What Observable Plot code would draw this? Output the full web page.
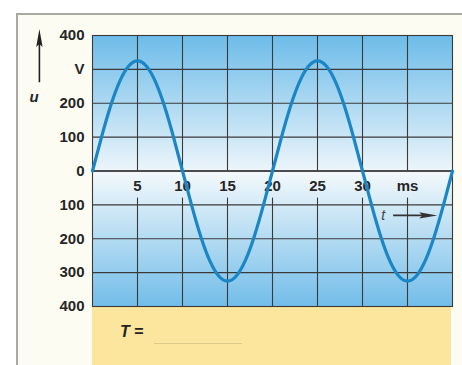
<!DOCTYPE html>
<html>
<head>
<meta charset="utf-8">
<script src="https://cdn.jsdelivr.net/npm/d3@7"></script>
<script src="https://cdn.jsdelivr.net/npm/@observablehq/plot@0.6"></script>
<style>
  html, body { margin: 0; padding: 0; background: #ffffff; }
  #wrap { position: relative; width: 462px; height: 365px; overflow: hidden; font-family: "Liberation Sans", Arial, sans-serif; }
  #frame { position: absolute; left: 16px; top: 13px; width: 460px; height: 360px; border-left: 2px solid #a9a9a4; border-top: 2px solid #a9a9a4; background: #fdfcf3; }
  #answer { position: absolute; left: 92px; top: 306px; width: 359px; height: 59px; background: #fce59c; }
  #answer .lbl { position: absolute; left: 28px; top: 17px; font-size: 16px; font-weight: bold; color: #222; }
  #answer .lbl i { font-style: italic; }
  #answer .blank { position: absolute; left: 62px; top: 37px; width: 88px; height: 0; border-top: 1px solid #dcc98c; }
  #chart { position: absolute; left: 0; top: 0; }
</style>
</head>
<body>
<div id="wrap">
  <div id="frame"></div>
  <div id="answer"><span class="lbl"><i>T</i> =</span><span class="blank"></span></div>
  <div id="chart"></div>
</div>
<script>
// time in ms
const tMs = [0,1,2,3,4,5,6,7,8,9,10,11,12,13,14,15,16,17,18,19,20,21,22,23,24,25,26,27,28,29,30,31,32,33,34,35,36,37,38,39,40];
// voltage, in V
const uVolts = [0,100,191,263,309,325,309,263,191,100,0,-100,-191,-263,-309,-325,-309,-263,-191,-100,0,100,191,263,309,325,309,263,191,100,0,-100,-191,-263,-309,-325,-309,-263,-191,-100,0];

const yTicks = [400,300,200,100,0,-100,-200,-300,-400];
const yTickLabels = ["400","V","200","100","0","100","200","300","400"];
const xTicks = [5,10,15,20,25,30,35];
const xTickLabels = ["5","10","15","20","25","30","ms"];

const data = tMs.map((t, i) => ({t, u: uVolts[i]}));

// filled, slender arrow head
const arrowHead = {
  draw(ctx, size) {
    ctx.moveTo(0, -10);
    ctx.lineTo(3.2, 8);
    ctx.lineTo(0, 5);
    ctx.lineTo(-3.2, 8);
    ctx.closePath();
  }
};

const plot = Plot.plot({
  width: 462,
  height: 365,
  marginLeft: 92,
  marginRight: 10,
  marginTop: 35,
  marginBottom: 59,
  style: {background: "transparent", fontFamily: "'Liberation Sans', Arial, sans-serif", overflow: "visible"},
  x: {domain: [0, 40], axis: null},
  y: {domain: [-400, 400]},
  marks: [
    Plot.frame({fill: "url(#bgGrad)", stroke: null}),
    Plot.ruleY(yTicks, {stroke: "#3a3a3a", strokeWidth: 1.1}),
    Plot.ruleX(xTicks, {y1: 0, y2: 400, stroke: "#3a3a3a", strokeWidth: 1.1}),
    Plot.ruleX(xTicks, {y1: -80, y2: -400, stroke: "#3a3a3a", strokeWidth: 1.1}),
    Plot.ruleY([0], {stroke: "#333", strokeWidth: 1.6}),
    Plot.frame({stroke: "#3a3a3a", strokeWidth: 1.1}),
    Plot.axisY(yTicks, {tickSize: 0, tickPadding: 8, tickFormat: (d) => yTickLabels[yTicks.indexOf(d)], fontSize: 15, fontWeight: "bold", fill: "#262626", label: null}),
    Plot.text(xTicks, {x: (d) => d, y: 0, text: (d, i) => xTickLabels[i], dy: 15, fontSize: 15, fontWeight: "bold", fill: "#262626", lineAnchor: "middle"}),
    Plot.line(data, {x: "t", y: "u", curve: "natural", stroke: "#1b86c6", strokeWidth: 3.2}),
    // u axis annotation
    Plot.link([{x: -5.9}], {x1: "x", x2: "x", y1: 262, y2: 380, stroke: "#222", strokeWidth: 1.6}),
    Plot.dot([{x: -5.9}], {x: "x", y: 390, symbol: arrowHead, fill: "#222", stroke: null}),
    Plot.text(["u"], {x: -6.5, y: 218, text: (d) => d, fontSize: 15, fontStyle: "italic", fontWeight: "bold", fill: "#262626"}),
    // t axis annotation
    Plot.link([{y: -131}], {x1: 33.4, x2: 37, y1: "y", y2: "y", stroke: "#333", strokeWidth: 1.6}),
    Plot.dot([{y: -131}], {x: 37.2, y: "y", symbol: arrowHead, rotate: 90, fill: "#333", stroke: null}),
    Plot.text(["t"], {x: 32.3, y: -131, text: (d) => d, fontSize: 14, fontStyle: "italic", fill: "#444"})
  ]
});

const defs = document.createElementNS("http://www.w3.org/2000/svg", "defs");
defs.innerHTML = `<linearGradient id="bgGrad" x1="0" y1="0" x2="0" y2="1">
  <stop offset="0" stop-color="#6dbce9"/>
  <stop offset="0.49" stop-color="#eaf4fa"/>
  <stop offset="0.51" stop-color="#f2f8fb"/>
  <stop offset="1" stop-color="#72bde9"/>
</linearGradient>`;
plot.insertBefore(defs, plot.firstChild);
document.getElementById("chart").appendChild(plot);
</script>
</body>
</html>
